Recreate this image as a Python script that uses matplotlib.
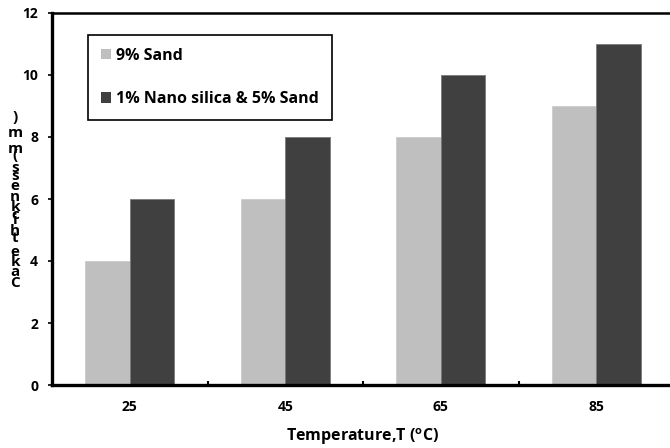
import numpy as np
import matplotlib
matplotlib.use("Agg")
from matplotlib import pyplot as plt
from matplotlib.patches import Patch

plt.rcParams['font.family'] = ['Open Sans', 'DejaVu Sans']
plt.rcParams['font.weight'] = 'bold'
plt.rcParams['mathtext.fontset'] = 'custom'
plt.rcParams['mathtext.rm'] = 'Open Sans:bold'
plt.rcParams['mathtext.bf'] = 'Open Sans:bold'

# cake thickness by temperature
temps = ['25', '45', '65', '85']
sand_9 = [4, 6, 8, 9]
nano_sand = [6, 8, 10, 11]
series_names = ['9% Sand', '1% Nano silica & 5% Sand']
y_label = 'Cake thickness (mm)'

fig = plt.figure(figsize=(6.7, 4.48), dpi=100)
ax = fig.add_axes([52 / 670, 1 - 385 / 448, 622 / 670, 372 / 448])

x = np.arange(len(temps))
w = 0.285
ax.bar(x - w / 2, sand_9, w, color='#bfbfbf', edgecolor='#c8c8c8', linewidth=0.5)
ax.bar(x + w / 2, nano_sand, w, color='#404040', edgecolor='#7a7a7a', linewidth=0.6)

ax.set_xlim(-0.5, 3.5)
ax.set_ylim(0, 12)
ax.set_yticks(range(0, 13, 2))
ax.set_xticks(x)
ax.set_xticklabels(temps)
ax.set_xticks(x[:-1] + 0.5, minor=True)
ax.tick_params(axis='x', which='major', length=0, pad=11, labelsize=10)
ax.tick_params(axis='x', which='minor', direction='in', length=3, width=1.5)
ax.tick_params(axis='y', direction='out', length=3, width=1.2, pad=7, labelsize=10)

for side, lw in [('left', 2.4), ('bottom', 2.4), ('top', 1.8), ('right', 1.8)]:
    ax.spines[side].set_linewidth(lw)

ax.set_xlabel(r'Temperature,T ($^{\mathrm{o}}$C)', fontsize=11.5, fontweight='bold', labelpad=9)

handles = [Patch(facecolor='#bfbfbf'), Patch(facecolor='#404040')]
leg = ax.legend(handles, series_names, loc='upper left', bbox_to_anchor=(0.058, 0.941),
                borderaxespad=0, fancybox=False, edgecolor='black', framealpha=1,
                fontsize=11.5, handlelength=0.65, handleheight=0.65, handletextpad=0.3,
                labelspacing=1.7, borderpad=0.8)
leg.get_frame().set_linewidth(1.2)
for t in leg.get_texts():
    t.set_fontweight('bold')

# y label: upright glyphs stacked along a vertical baseline, reading bottom to top
fig.canvas.draw()
renderer = fig.canvas.get_renderer()
probe = fig.text(0, 0, '|', fontsize=11, fontweight='bold')
bar_w = probe.get_window_extent(renderer).width
offsets = []
for i in range(len(y_label) + 1):
    probe.set_text(y_label[:i] + '|')
    offsets.append(probe.get_window_extent(renderer).width - bar_w)
probe.remove()
scale = 172 / offsets[-1]
for i, ch in enumerate(y_label):
    if ch == ' ':
        continue
    ypix = 287 - offsets[i] * scale
    fig.text(15 / 670, 1 - ypix / 448, ch, fontsize=11, fontweight='bold',
             ha='center', va='baseline')

fig.savefig('out.png', dpi=100)
